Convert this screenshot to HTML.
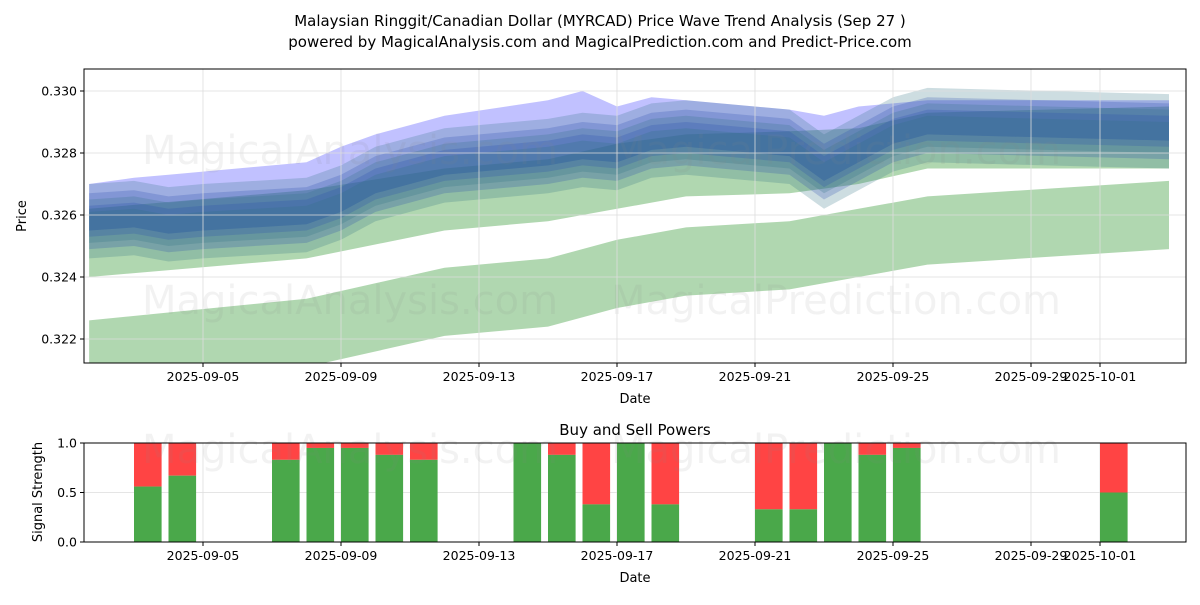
<!DOCTYPE html>
<html><head><meta charset="utf-8"><style>
body{margin:0;background:#fff;font-family:"Liberation Sans","DejaVu Sans",sans-serif}
svg text{font-family:"DejaVu Sans","Liberation Sans",sans-serif;fill:#000}
</style></head><body>
<svg id="c" width="1200" height="600">
<text x="600" y="26" font-size="15" text-anchor="middle">Malaysian Ringgit/Canadian Dollar (MYRCAD) Price Wave Trend Analysis (Sep 27 )</text>
<text x="600" y="47" font-size="15" text-anchor="middle">powered by MagicalAnalysis.com and MagicalPrediction.com and Predict-Price.com</text>
<g id="topg"></g><g id="botg"></g>
</svg>
<script>
const xTicks=[4,8,12,16,20,24,28,30];
const xTickLabels=["2025-09-05","2025-09-09","2025-09-13","2025-09-17","2025-09-21","2025-09-25","2025-09-29","2025-10-01"];
const yTicks=[0.322,0.324,0.326,0.328,0.330];
const greenDays=[0.7,7,11,14,16,18,21,23,25,32];
const greenAUpper=[.3226,.3233,.3243,.3246,.3252,.3256,.3258,.3262,.3266,.3271];
const greenBUpper=[.3262,.3268,.3275,.3278,.3283,.3286,.3287,.3288,.3293,.3295];
const greenBLower=[.3240,.3246,.3255,.3258,.3262,.3266,.3267,.3270,.3275,.3275];
const midDays=[0.7,2,3,4,7,8,9,10,11,14,15,16,17,18,21,22,23,24,25,32];
const center=[.3258,.3259,.3257,.3258,.3260,.3264,.3270,.3273,.3276,.3279,.3281,.3280,.3284,.3285,.3282,.3274,.3280,.3286,.3289,.3287];
const blueUpper=[.3270,.3272,.3273,.3274,.3277,.3282,.3286,.3289,.3292,.3297,.3300,.3295,.3298,.3297,.3294,.3292,.3295,.3296,.3297,.3297];
const bandHalfWidths=[0.0012,0.0009,0.0007,0.0005,0.0003];
const barDays=[3,4,7,8,9,10,11,14,15,16,17,18,21,22,23,24,25,31];
const buyPower=[0.56,0.67,0.83,0.95,0.95,0.88,0.83,1.0,0.88,0.38,1.0,0.38,0.33,0.33,1.0,0.88,0.95,0.5];
const NS="http://www.w3.org/2000/svg";
const L=84,R=1186,T=69,B=363,BT=443,BB=542;
const xs=d=>203+(d-4)*34.5;
const ys=v=>91+(0.330-v)/0.002*62;
const yb=v=>BB-v*(BB-BT);
function el(tag,at,p){const e=document.createElementNS(NS,tag);for(const k in at)e.setAttribute(k,at[k]);p.appendChild(e);return e;}
const svgRoot=document.getElementById('c');
const topG=document.getElementById('topg'),botG=document.getElementById('botg');
const cp=el('clipPath',{id:'cl'},svgRoot);el('rect',{x:L,y:T,width:R-L,height:B-T},cp);
const plotG=el('g',{'clip-path':'url(#cl)'},topG);
xTicks.forEach((d,i)=>{
 let g=el('line',{x1:xs(d),x2:xs(d),y1:T,y2:B,stroke:'#ddd','stroke-width':0.8},topG);
 
 
 let g2=el('line',{x1:xs(d),x2:xs(d),y1:BT,y2:BB,stroke:'#ddd','stroke-width':0.8},botG);
 
 
 [[B,topG],[BB,botG]].forEach(([yy,p])=>{
  el('line',{x1:xs(d),x2:xs(d),y1:yy,y2:yy+4,stroke:'#000'},p);
  let t=el('text',{x:xs(d),y:yy+18,'font-size':12.5,'text-anchor':'middle'},p);
  t.textContent=xTickLabels[i];
  
  
 });
});
yTicks.forEach(v=>{
 el('line',{x1:L,x2:R,y1:ys(v),y2:ys(v),stroke:'#ddd','stroke-width':0.8},topG);
 el('line',{x1:L-4,x2:L,y1:ys(v),y2:ys(v),stroke:'#000'},topG);
 let t=el('text',{x:L-7,y:ys(v)+4.5,'font-size':12.5,'text-anchor':'end'},topG);
 t.textContent=v.toFixed(3);
 
 
});
function band(days,up,lo,fill,op,name){
 let pts=days.map((d,i)=>xs(d)+','+ys(up[i]));
 for(let i=days.length-1;i>=0;i--)pts.push(xs(days[i])+','+ys(lo[i]));
 let p=el('polygon',{points:pts.join(' '),fill:fill,'fill-opacity':op},plotG);
 
 
}
band(greenDays,greenAUpper,greenAUpper.map(v=>v-0.0022),'#3a9a3a',0.4,'green-band-low');
band(greenDays,greenBUpper,greenBLower,'#3a9a3a',0.4,'green-band-mid');
band(midDays,blueUpper,center.map(v=>v-0.0003),'#4444ff',0.33,'blue-band-upper');
bandHalfWidths.forEach((h,i)=>band(midDays,center.map(v=>v+h),center.map(v=>v-h),i%2?'#2a4ab0':'#2f6f80',0.24,'wave-band'));
el('rect',{x:L,y:T,width:R-L,height:B-T,fill:'none',stroke:'#000'},topG);
[[350,150],[836,150],[350,300],[836,300]].forEach((p,i)=>{
 let t=el('text',{x:p[0],y:p[1]+14,'font-size':40,'text-anchor':'middle',opacity:0.1},plotG);
 t.style.fill='#888';t.textContent=i%2?'MagicalPrediction.com':'MagicalAnalysis.com';
 
 
});
let yl=el('text',{x:26,y:216,'font-size':13,'text-anchor':'middle',transform:'rotate(-90 26 216)'},svgRoot);yl.textContent='Price';


let xl=el('text',{x:635,y:403,'font-size':13,'text-anchor':'middle'},svgRoot);xl.textContent='Date';


[0,0.5,1].forEach(v=>{
 el('line',{x1:L,x2:R,y1:yb(v),y2:yb(v),stroke:'#ddd','stroke-width':0.8},botG);
 el('line',{x1:L-4,x2:L,y1:yb(v),y2:yb(v),stroke:'#000'},botG);
 let t=el('text',{x:L-7,y:yb(v)+4.5,'font-size':12.5,'text-anchor':'end'},botG);t.textContent=v.toFixed(1);
 
 
});
barDays.forEach((d,i)=>{
 const cx=xs(d-0.6);
 let r=el('rect',{x:cx-13.8,y:yb(1),width:27.6,height:yb(buyPower[i])-yb(1),fill:'#ff4444'},botG);
 
 
 let g=el('rect',{x:cx-13.8,y:yb(buyPower[i]),width:27.6,height:BB-yb(buyPower[i]),fill:'#4aa84a'},botG);
 
 
});
[[350,449],[836,449]].forEach((p,i)=>{
 let t=el('text',{x:p[0],y:p[1]+14,'font-size':40,'text-anchor':'middle',opacity:0.1},botG);
 t.style.fill='#888';t.textContent=i?'MagicalPrediction.com':'MagicalAnalysis.com';
 
 
});
el('rect',{x:L,y:BT,width:R-L,height:BB-BT,fill:'none',stroke:'#000'},botG);
let bt=el('text',{x:635,y:435,'font-size':15,'text-anchor':'middle'},botG);bt.textContent='Buy and Sell Powers';


let bl=el('text',{x:42,y:492,'font-size':13,'text-anchor':'middle',transform:'rotate(-90 42 492)'},botG);bl.textContent='Signal Strength';


let bx=el('text',{x:635,y:582,'font-size':13,'text-anchor':'middle'},botG);bx.textContent='Date';


</script>
</body></html>
